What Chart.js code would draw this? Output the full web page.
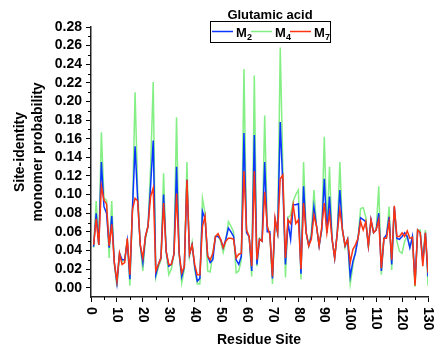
<!DOCTYPE html>
<html>
<head>
<meta charset="utf-8">
<script src="https://cdn.jsdelivr.net/npm/chart.js@4.4.0/dist/chart.umd.min.js"></script>
<style>
  html, body { margin: 0; padding: 0; background: #fff; }
</style>
</head>
<body>
<canvas id="myChart" width="434" height="347"></canvas>
<script>
// residue sites 1..130
const sites = Array.from({ length: 130 }, (_, i) => i + 1);

const m2 = [
  0.044, 0.080, 0.046, 0.135, 0.087, 0.080, 0.043, 0.077, 0.027, 0.005,
  0.037, 0.030, 0.030, 0.050, 0.009, 0.085, 0.152, 0.095, 0.046, 0.027,
  0.055, 0.066, 0.110, 0.158, 0.014, 0.025, 0.032, 0.100, 0.039, 0.023,
  0.025, 0.036, 0.130, 0.037, 0.012, 0.023, 0.116, 0.036, 0.046, 0.023,
  0.007, 0.010, 0.082, 0.074, 0.034, 0.027, 0.030, 0.055, 0.055, 0.052,
  0.043, 0.052, 0.064, 0.060, 0.055, 0.030, 0.025, 0.034, 0.166, 0.059,
  0.055, 0.018, 0.164, 0.025, 0.052, 0.050, 0.135, 0.060, 0.060, 0.010,
  0.073, 0.059, 0.178, 0.110, 0.025, 0.070, 0.052, 0.089, 0.089, 0.090,
  0.015, 0.109, 0.059, 0.045, 0.055, 0.087, 0.066, 0.045, 0.062, 0.117,
  0.059, 0.098, 0.052, 0.032, 0.059, 0.105, 0.062, 0.045, 0.052, 0.012,
  0.028, 0.037, 0.053, 0.075, 0.073, 0.071, 0.045, 0.073, 0.059, 0.062,
  0.080, 0.018, 0.053, 0.057, 0.076, 0.025, 0.087, 0.053, 0.052, 0.055,
  0.059, 0.055, 0.043, 0.055, 0.005, 0.062, 0.059, 0.027, 0.059, 0.012
];

const m4 = [
  0.043, 0.093, 0.046, 0.167, 0.096, 0.094, 0.032, 0.093, 0.025, 0.001,
  0.035, 0.028, 0.030, 0.052, 0.002, 0.084, 0.210, 0.105, 0.045, 0.018,
  0.052, 0.066, 0.130, 0.221, 0.011, 0.022, 0.030, 0.123, 0.038, 0.014,
  0.020, 0.036, 0.183, 0.037, 0.005, 0.020, 0.135, 0.034, 0.049, 0.020,
  0.004, 0.004, 0.096, 0.080, 0.018, 0.017, 0.037, 0.055, 0.057, 0.050,
  0.038, 0.050, 0.071, 0.066, 0.060, 0.016, 0.018, 0.030, 0.235, 0.062,
  0.055, 0.012, 0.228, 0.023, 0.053, 0.050, 0.185, 0.066, 0.057, 0.004,
  0.071, 0.059, 0.258, 0.130, 0.011, 0.075, 0.078, 0.093, 0.100, 0.105,
  0.009, 0.135, 0.059, 0.045, 0.059, 0.105, 0.066, 0.045, 0.062, 0.162,
  0.059, 0.130, 0.052, 0.032, 0.059, 0.135, 0.062, 0.043, 0.052, 0.004,
  0.023, 0.040, 0.053, 0.085, 0.086, 0.076, 0.043, 0.071, 0.059, 0.062,
  0.109, 0.014, 0.053, 0.055, 0.087, 0.019, 0.085, 0.050, 0.039, 0.037,
  0.050, 0.055, 0.043, 0.052, 0.001, 0.062, 0.062, 0.030, 0.062, 0.002
];

const m7 = [
  0.046, 0.074, 0.046, 0.109, 0.094, 0.090, 0.045, 0.068, 0.027, 0.007,
  0.037, 0.025, 0.027, 0.053, 0.014, 0.084, 0.096, 0.093, 0.046, 0.032,
  0.055, 0.066, 0.098, 0.107, 0.018, 0.025, 0.032, 0.091, 0.039, 0.025,
  0.025, 0.036, 0.101, 0.037, 0.016, 0.023, 0.116, 0.036, 0.046, 0.025,
  0.014, 0.014, 0.066, 0.077, 0.034, 0.030, 0.037, 0.055, 0.058, 0.052,
  0.043, 0.050, 0.053, 0.053, 0.052, 0.032, 0.036, 0.037, 0.125, 0.062,
  0.055, 0.023, 0.125, 0.030, 0.052, 0.050, 0.103, 0.066, 0.057, 0.012,
  0.075, 0.059, 0.117, 0.121, 0.032, 0.073, 0.069, 0.089, 0.069, 0.073,
  0.020, 0.091, 0.059, 0.045, 0.052, 0.078, 0.066, 0.045, 0.065, 0.091,
  0.059, 0.080, 0.052, 0.032, 0.059, 0.084, 0.062, 0.045, 0.052, 0.027,
  0.041, 0.046, 0.053, 0.071, 0.062, 0.071, 0.045, 0.073, 0.059, 0.062,
  0.073, 0.021, 0.053, 0.053, 0.071, 0.030, 0.088, 0.055, 0.055, 0.059,
  0.055, 0.061, 0.053, 0.054, 0.002, 0.062, 0.059, 0.023, 0.059, 0.016
];

const seriesNames = ['M2', 'M4', 'M7'];
const seriesColors = ['#0a36ff', '#84ef84', '#ff3512'];
const xTicks = [0, 10, 20, 30, 40, 50, 60, 70, 80, 90, 100, 110, 120, 130];
const yTicks = [0, 0.02, 0.04, 0.06, 0.08, 0.10, 0.12, 0.14, 0.16, 0.18, 0.20, 0.22, 0.24, 0.26, 0.28];
const legendTitle = 'Glutamic acid';
const xTitle = 'Residue Site';
const yTitle = ['Site-identity', 'monomer probability'];

const FONT = "'Liberation Sans', Arial, sans-serif";

function toPoints(values) {
  return values.map((v, i) => ({ x: sites[i], y: v }));
}

// minor ticks, rotated x labels, titles and the boxed legend
const decorPlugin = {
  id: 'decor',
  afterDraw(chart) {
    const ctx = chart.ctx;
    const xs = chart.scales.x;
    const ys = chart.scales.y;
    const area = chart.chartArea;
    ctx.save();
    ctx.strokeStyle = '#000';
    ctx.lineWidth = 1;

    // minor ticks
    for (let i = 0; i < xTicks.length - 1; i++) {
      const px = Math.round(xs.getPixelForValue((xTicks[i] + xTicks[i + 1]) / 2)) + 0.5;
      ctx.beginPath();
      ctx.moveTo(px, area.bottom);
      ctx.lineTo(px, area.bottom + 3);
      ctx.stroke();
    }
    for (let i = 0; i < yTicks.length - 1; i++) {
      const py = Math.round(ys.getPixelForValue((yTicks[i] + yTicks[i + 1]) / 2)) + 0.5;
      ctx.beginPath();
      ctx.moveTo(area.left, py);
      ctx.lineTo(area.left - 3, py);
      ctx.stroke();
    }

    // x tick labels, turned clockwise
    ctx.fillStyle = '#000';
    ctx.font = 'bold 14px ' + FONT;
    ctx.textAlign = 'left';
    ctx.textBaseline = 'middle';
    xTicks.forEach(v => {
      const px = xs.getPixelForValue(v);
      ctx.save();
      ctx.translate(px, area.bottom + 10);
      ctx.rotate(Math.PI / 2);
      ctx.fillText(String(v), 0, 0);
      ctx.restore();
    });

    // axis titles
    ctx.font = 'bold 14px ' + FONT;
    ctx.textAlign = 'center';
    ctx.textBaseline = 'middle';
    ctx.fillText(xTitle, 259, 340);
    const cy = 152;
    yTitle.forEach((line, i) => {
      ctx.save();
      ctx.translate(20 + i * 18, cy);
      ctx.rotate(-Math.PI / 2);
      ctx.fillText(line, 0, 0);
      ctx.restore();
    });

    // legend
    ctx.font = 'bold 13px ' + FONT;
    ctx.textAlign = 'center';
    ctx.textBaseline = 'alphabetic';
    ctx.fillText(legendTitle, 270, 19);
    ctx.fillStyle = '#fff';
    ctx.fillRect(210.5, 21.5, 120, 21);
    ctx.strokeStyle = '#000';
    ctx.lineWidth = 1;
    ctx.strokeRect(210.5, 21.5, 120, 21);
    ctx.textAlign = 'left';
    seriesNames.forEach((name, i) => {
      const x0 = 212 + i * 39;
      ctx.strokeStyle = seriesColors[i];
      ctx.lineWidth = 1.5;
      ctx.beginPath();
      ctx.moveTo(x0, 31.5);
      ctx.lineTo(x0 + 21, 31.5);
      ctx.stroke();
      ctx.fillStyle = '#000';
      ctx.font = 'bold 13px ' + FONT;
      ctx.fillText(name[0], x0 + 24, 36.5);
      ctx.font = 'bold 9px ' + FONT;
      ctx.fillText(name.slice(1), x0 + 35, 39.5);
    });
    ctx.restore();
  }
};

const ctx = document.getElementById('myChart').getContext('2d');
const myChart = new Chart(ctx, {
  type: 'line',
  data: {
    datasets: [
      { label: seriesNames[0], data: toPoints(m2), borderColor: seriesColors[0], order: 1 },
      { label: seriesNames[1], data: toPoints(m4), borderColor: seriesColors[1], order: 2 },
      { label: seriesNames[2], data: toPoints(m7), borderColor: seriesColors[2], order: 0 }
    ]
  },
  options: {
    responsive: false,
    animation: false,
    devicePixelRatio: 1,
    elements: {
      line: { borderWidth: 1.5, tension: 0, fill: false },
      point: { radius: 0 }
    },
    layout: { padding: { top: 27, right: 6, left: 0, bottom: 0 } },
    plugins: {
      legend: { display: false },
      tooltip: { enabled: false }
    },
    scales: {
      x: {
        type: 'linear',
        min: 0,
        max: 130,
        afterBuildTicks: s => { s.ticks = xTicks.map(v => ({ value: v })); },
        afterFit: s => { s.height = 50; },
        ticks: { display: false, autoSkip: false },
        grid: { display: true, drawOnChartArea: false, drawTicks: true, tickLength: 5, color: '#000', lineWidth: 1 },
        border: { display: true, color: '#222', width: 1.5 }
      },
      y: {
        type: 'linear',
        min: -0.01,
        max: 0.28,
        afterBuildTicks: s => { s.ticks = yTicks.map(v => ({ value: v })); },
        afterFit: s => { s.width = 91; },
        ticks: {
          color: '#000',
          padding: 4,
          autoSkip: false,
          font: { family: FONT, size: 14, weight: 'bold' },
          callback: v => Number(v).toFixed(2)
        },
        grid: { display: true, drawOnChartArea: false, drawTicks: true, tickLength: 5, color: '#000', lineWidth: 1 },
        border: { display: true, color: '#222', width: 1.5 }
      }
    }
  },
  plugins: [decorPlugin]
});
</script>
</body>
</html>
